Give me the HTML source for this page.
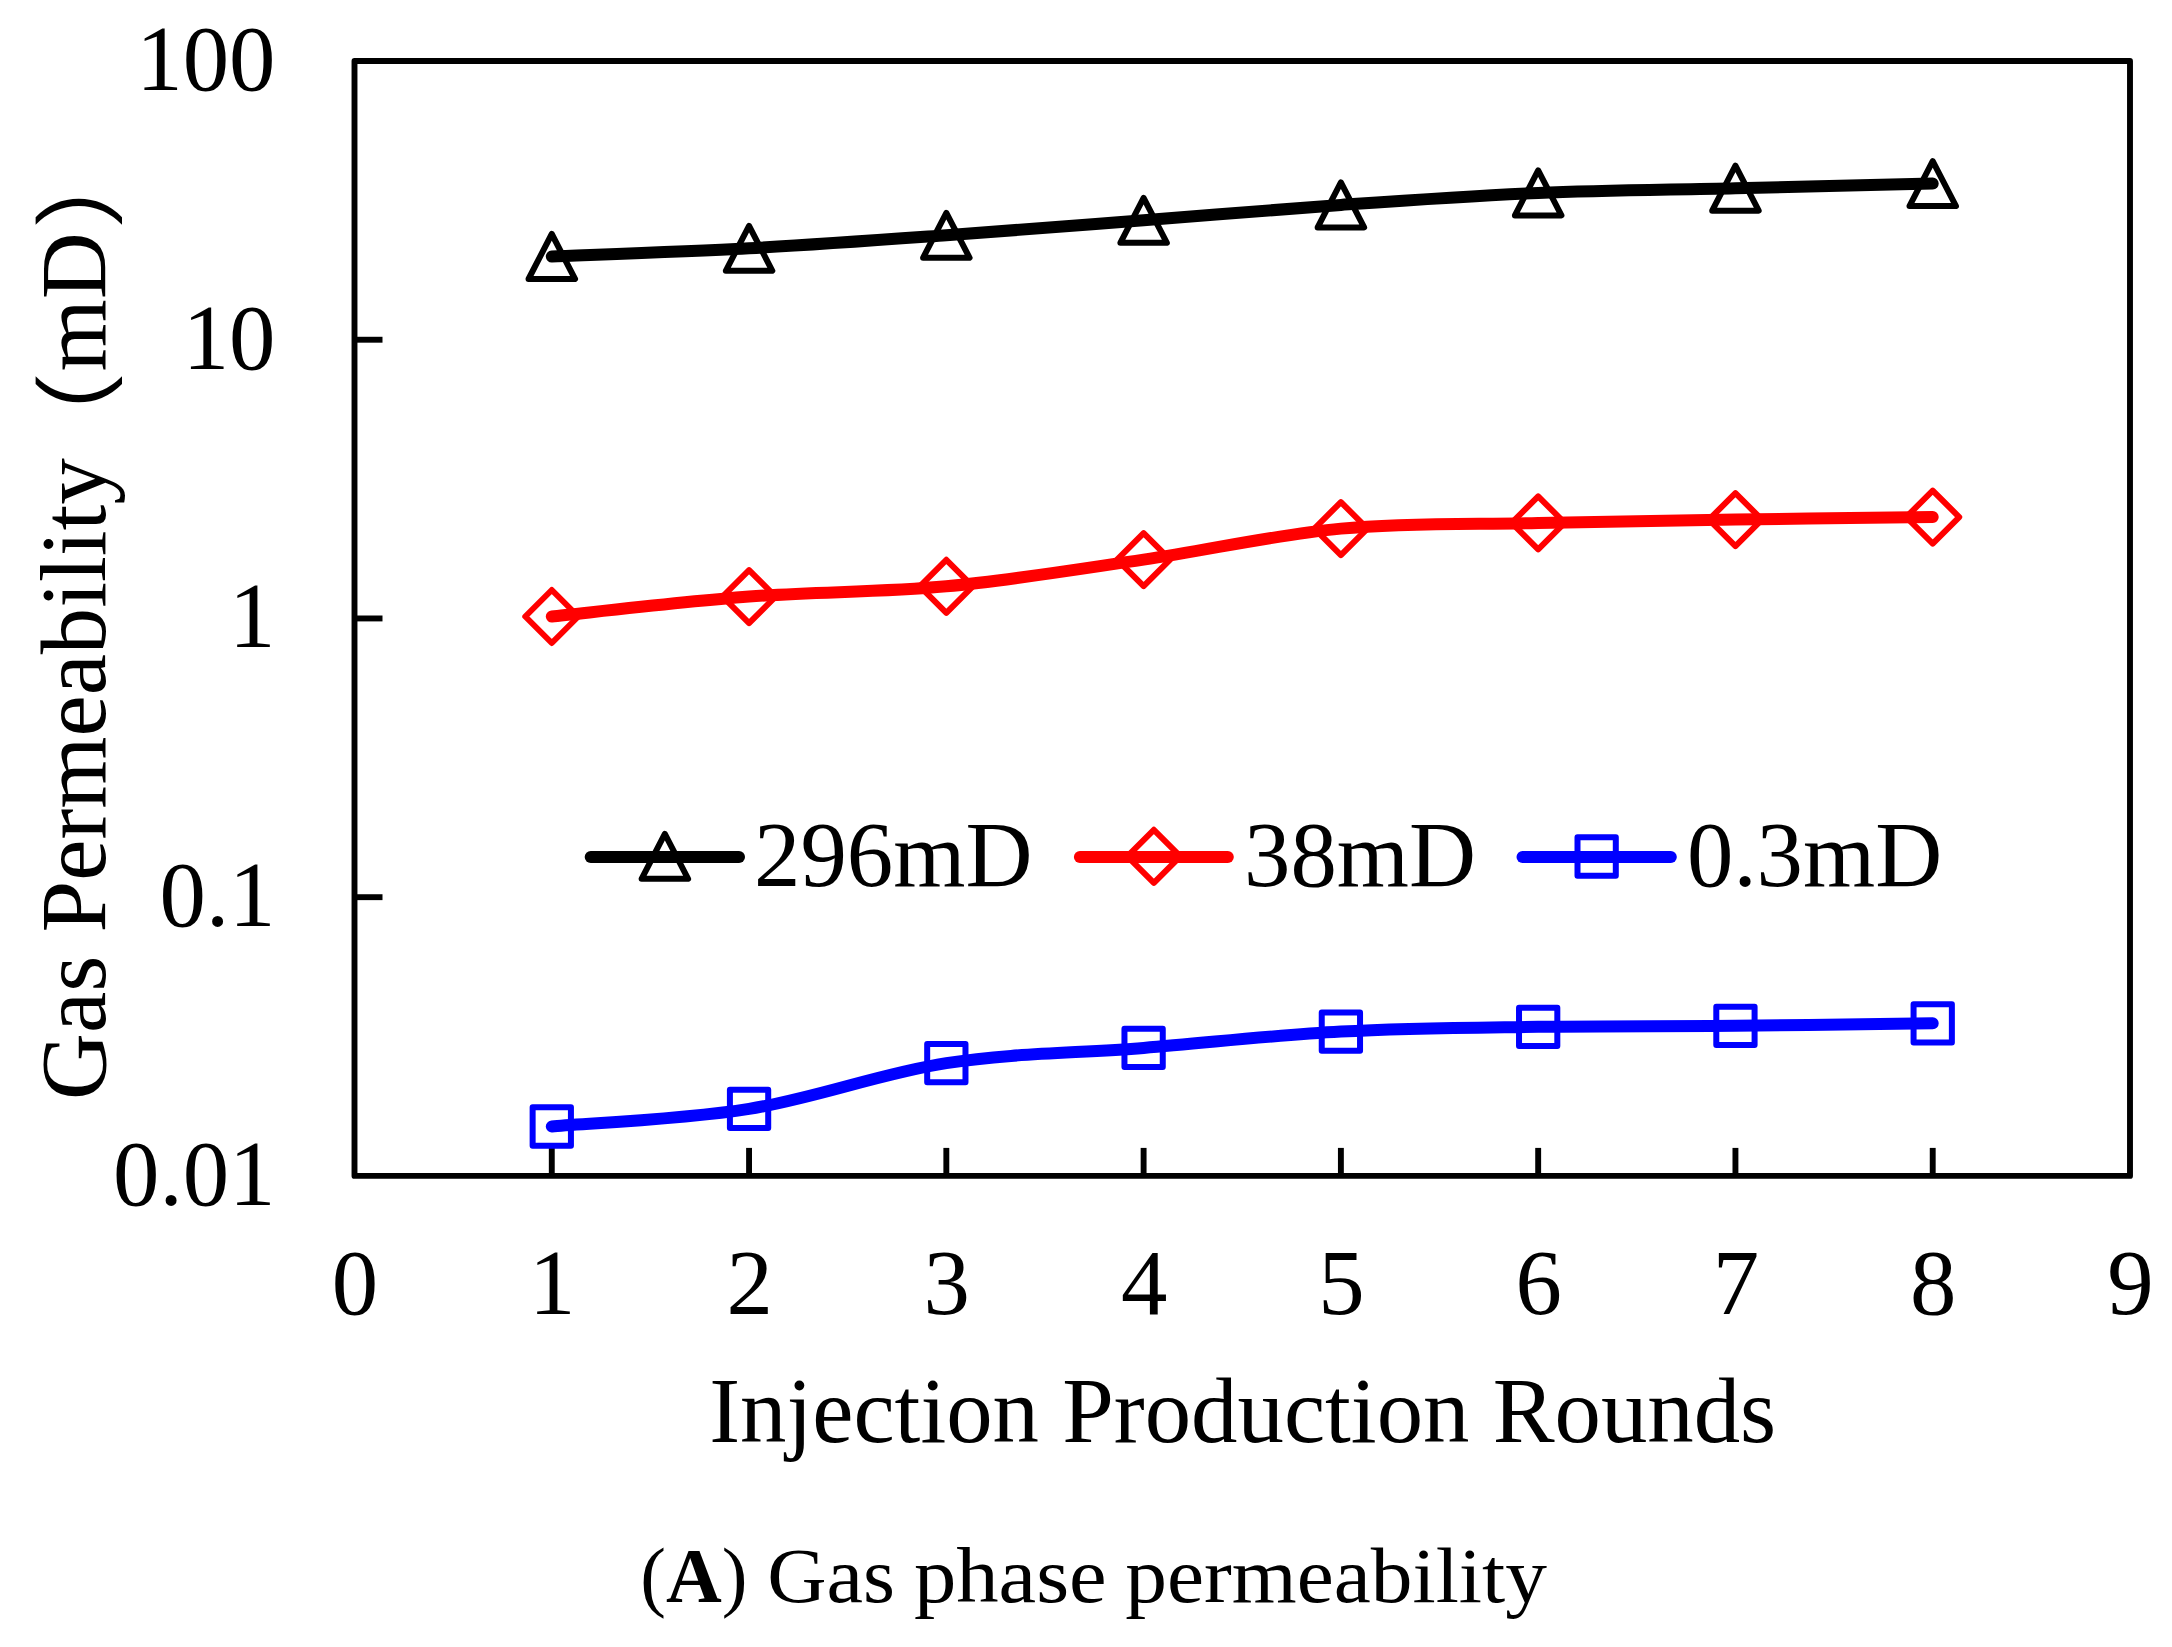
<!DOCTYPE html>
<html lang="en"><head><meta charset="utf-8"><title>Gas phase permeability</title>
<style>
html,body{margin:0;padding:0;background:#fff;}
body{width:2172px;height:1647px;overflow:hidden;}
svg{display:block;}
text{font-family:"Liberation Serif","Noto Serif CJK SC",serif;fill:#000;}
.t{font-size:92.8px;}
.p{font-family:"IPAGothic","Noto Sans CJK SC",sans-serif;font-size:96.4px;}
.c{font-size:78px;}
</style></head><body>
<svg width="2172" height="1647" viewBox="0 0 2172 1647">
<rect width="2172" height="1647" fill="#fff"/>
<g stroke="#000" stroke-width="5.9" fill="none">
<rect x="354.5" y="61.0" width="1775.5" height="1114.9" stroke-linejoin="round"/>
<line x1="354.5" y1="339.73" x2="382.5" y2="339.73"/>
<line x1="354.5" y1="618.45" x2="382.5" y2="618.45"/>
<line x1="354.5" y1="897.18" x2="382.5" y2="897.18"/>
<line x1="551.78" y1="1175.9" x2="551.78" y2="1147.9"/>
<line x1="749.06" y1="1175.9" x2="749.06" y2="1147.9"/>
<line x1="946.33" y1="1175.9" x2="946.33" y2="1147.9"/>
<line x1="1143.61" y1="1175.9" x2="1143.61" y2="1147.9"/>
<line x1="1340.89" y1="1175.9" x2="1340.89" y2="1147.9"/>
<line x1="1538.17" y1="1175.9" x2="1538.17" y2="1147.9"/>
<line x1="1735.44" y1="1175.9" x2="1735.44" y2="1147.9"/>
<line x1="1932.72" y1="1175.9" x2="1932.72" y2="1147.9"/>
</g>
<g stroke="#000" stroke-width="6.0" fill="none" stroke-linejoin="round">
<path d="M551.78,234.00 L575.03,279.00 L528.53,279.00 Z"/>
<path d="M749.06,225.80 L772.31,270.80 L725.81,270.80 Z"/>
<path d="M946.33,212.80 L969.58,257.80 L923.08,257.80 Z"/>
<path d="M1143.61,197.80 L1166.86,242.80 L1120.36,242.80 Z"/>
<path d="M1340.89,182.40 L1364.14,227.40 L1317.64,227.40 Z"/>
<path d="M1538.17,170.40 L1561.42,215.40 L1514.92,215.40 Z"/>
<path d="M1735.44,165.70 L1758.69,210.70 L1712.19,210.70 Z"/>
<path d="M1932.72,161.10 L1955.97,206.10 L1909.47,206.10 Z"/>
</g>
<path d="M551.78,256.50 C584.66,255.13 683.30,251.83 749.06,248.30 C814.81,244.77 880.57,239.97 946.33,235.30 C1012.09,230.63 1077.85,225.37 1143.61,220.30 C1209.37,215.23 1275.13,209.47 1340.89,204.90 C1406.65,200.33 1472.41,195.68 1538.17,192.90 C1603.93,190.12 1669.69,189.75 1735.44,188.20 C1801.20,186.65 1899.84,184.37 1932.72,183.60" stroke="#000" stroke-width="12.0" fill="none" stroke-linecap="round" stroke-linejoin="round"/>
<g stroke="#f00" stroke-width="6.0" fill="none" stroke-linejoin="round">
<path d="M551.78,590.00 L578.28,616.50 L551.78,643.00 L525.28,616.50 Z"/>
<path d="M749.06,570.10 L775.56,596.60 L749.06,623.10 L722.56,596.60 Z"/>
<path d="M946.33,559.80 L972.83,586.30 L946.33,612.80 L919.83,586.30 Z"/>
<path d="M1143.61,533.10 L1170.11,559.60 L1143.61,586.10 L1117.11,559.60 Z"/>
<path d="M1340.89,502.10 L1367.39,528.60 L1340.89,555.10 L1314.39,528.60 Z"/>
<path d="M1538.17,496.40 L1564.67,522.90 L1538.17,549.40 L1511.67,522.90 Z"/>
<path d="M1735.44,493.10 L1761.94,519.60 L1735.44,546.10 L1708.94,519.60 Z"/>
<path d="M1932.72,490.60 L1959.22,517.10 L1932.72,543.60 L1906.22,517.10 Z"/>
</g>
<path d="M551.78,616.50 C584.66,613.18 683.30,601.63 749.06,596.60 C814.81,591.57 880.57,592.47 946.33,586.30 C1012.09,580.13 1077.85,569.22 1143.61,559.60 C1209.37,549.98 1275.13,534.72 1340.89,528.60 C1406.65,522.48 1472.41,524.40 1538.17,522.90 C1603.93,521.40 1669.69,520.57 1735.44,519.60 C1801.20,518.63 1899.84,517.52 1932.72,517.10" stroke="#f00" stroke-width="12.0" fill="none" stroke-linecap="round" stroke-linejoin="round"/>
<g stroke="#00f" stroke-width="6.0" fill="none" stroke-linejoin="round">
<path d="M532.63,1107.35 h38.3 v38.3 h-38.3 Z"/>
<path d="M729.91,1089.75 h38.3 v38.3 h-38.3 Z"/>
<path d="M927.18,1043.95 h38.3 v38.3 h-38.3 Z"/>
<path d="M1124.46,1028.75 h38.3 v38.3 h-38.3 Z"/>
<path d="M1321.74,1012.45 h38.3 v38.3 h-38.3 Z"/>
<path d="M1519.02,1007.65 h38.3 v38.3 h-38.3 Z"/>
<path d="M1716.29,1006.65 h38.3 v38.3 h-38.3 Z"/>
<path d="M1913.57,1004.15 h38.3 v38.3 h-38.3 Z"/>
</g>
<path d="M551.78,1126.50 C584.66,1123.57 683.30,1119.47 749.06,1108.90 C814.81,1098.33 880.57,1073.27 946.33,1063.10 C1012.09,1052.93 1077.85,1053.15 1143.61,1047.90 C1209.37,1042.65 1275.13,1035.12 1340.89,1031.60 C1406.65,1028.08 1472.41,1027.77 1538.17,1026.80 C1603.93,1025.83 1669.69,1026.38 1735.44,1025.80 C1801.20,1025.22 1899.84,1023.72 1932.72,1023.30" stroke="#00f" stroke-width="12.0" fill="none" stroke-linecap="round" stroke-linejoin="round"/>
<g stroke="#000" stroke-width="6.0" fill="none" stroke-linejoin="round"><path d="M664.85,833.80 L688.10,878.80 L641.60,878.80 Z"/></g>
<line x1="590.7" y1="856.9" x2="739" y2="856.9" stroke="#000" stroke-width="12.0" stroke-linecap="round"/>
<g stroke="#f00" stroke-width="6.0" fill="none" stroke-linejoin="round"><path d="M1153.85,829.80 L1180.35,856.30 L1153.85,882.80 L1127.35,856.30 Z"/></g>
<line x1="1079.9" y1="856.9" x2="1227.8" y2="856.9" stroke="#f00" stroke-width="12.0" stroke-linecap="round"/>
<g stroke="#00f" stroke-width="6.0" fill="none" stroke-linejoin="round"><path d="M1577.50,837.35 h38.3 v38.3 h-38.3 Z"/></g>
<line x1="1522.5" y1="856.9" x2="1670.8" y2="856.9" stroke="#00f" stroke-width="12.0" stroke-linecap="round"/>
<text class="t" x="754" y="886.3">296mD</text>
<text class="t" x="1244" y="886.3">38mD</text>
<text class="t" x="1687" y="886.3">0.3mD</text>
<text class="t" x="275.5" y="89.8" text-anchor="end">100</text>
<text class="t" x="275.5" y="368.5" text-anchor="end">10</text>
<text class="t" x="275.5" y="647.2" text-anchor="end">1</text>
<text class="t" x="275.5" y="926.0" text-anchor="end">0.1</text>
<text class="t" x="275.5" y="1204.7" text-anchor="end">0.01</text>
<text class="t" x="355.0" y="1313.8" text-anchor="middle">0</text>
<text class="t" x="552.3" y="1313.8" text-anchor="middle">1</text>
<text class="t" x="749.6" y="1313.8" text-anchor="middle">2</text>
<text class="t" x="946.8" y="1313.8" text-anchor="middle">3</text>
<text class="t" x="1144.1" y="1313.8" text-anchor="middle">4</text>
<text class="t" x="1341.4" y="1313.8" text-anchor="middle">5</text>
<text class="t" x="1538.7" y="1313.8" text-anchor="middle">6</text>
<text class="t" x="1735.9" y="1313.8" text-anchor="middle">7</text>
<text class="t" x="1933.2" y="1313.8" text-anchor="middle">8</text>
<text class="t" x="2130.5" y="1313.8" text-anchor="middle">9</text>
<text class="t" x="1242.7" y="1442" text-anchor="middle">Injection Production Rounds</text>
<text class="t" transform="translate(105,1096.9) rotate(-90)"><tspan x="-3">Gas Permeability</tspan><tspan class="p" x="631.5" dy="9.7">（</tspan><tspan x="725.4" dy="-9.7">mD</tspan><tspan class="p" x="865" dy="9.7">）</tspan></text>
<g class="c">
<text transform="translate(640.23,1602) scale(0.9902,1)">(<tspan font-weight="bold">A</tspan>)</text>
<text transform="translate(767.14,1602) scale(1.0530,1)">Gas</text>
<text transform="translate(913.91,1602) scale(1.0856,1)">phase</text>
<text transform="translate(1125.33,1602) scale(1.0695,1)">permeability</text>
</g>
</svg></body></html>
